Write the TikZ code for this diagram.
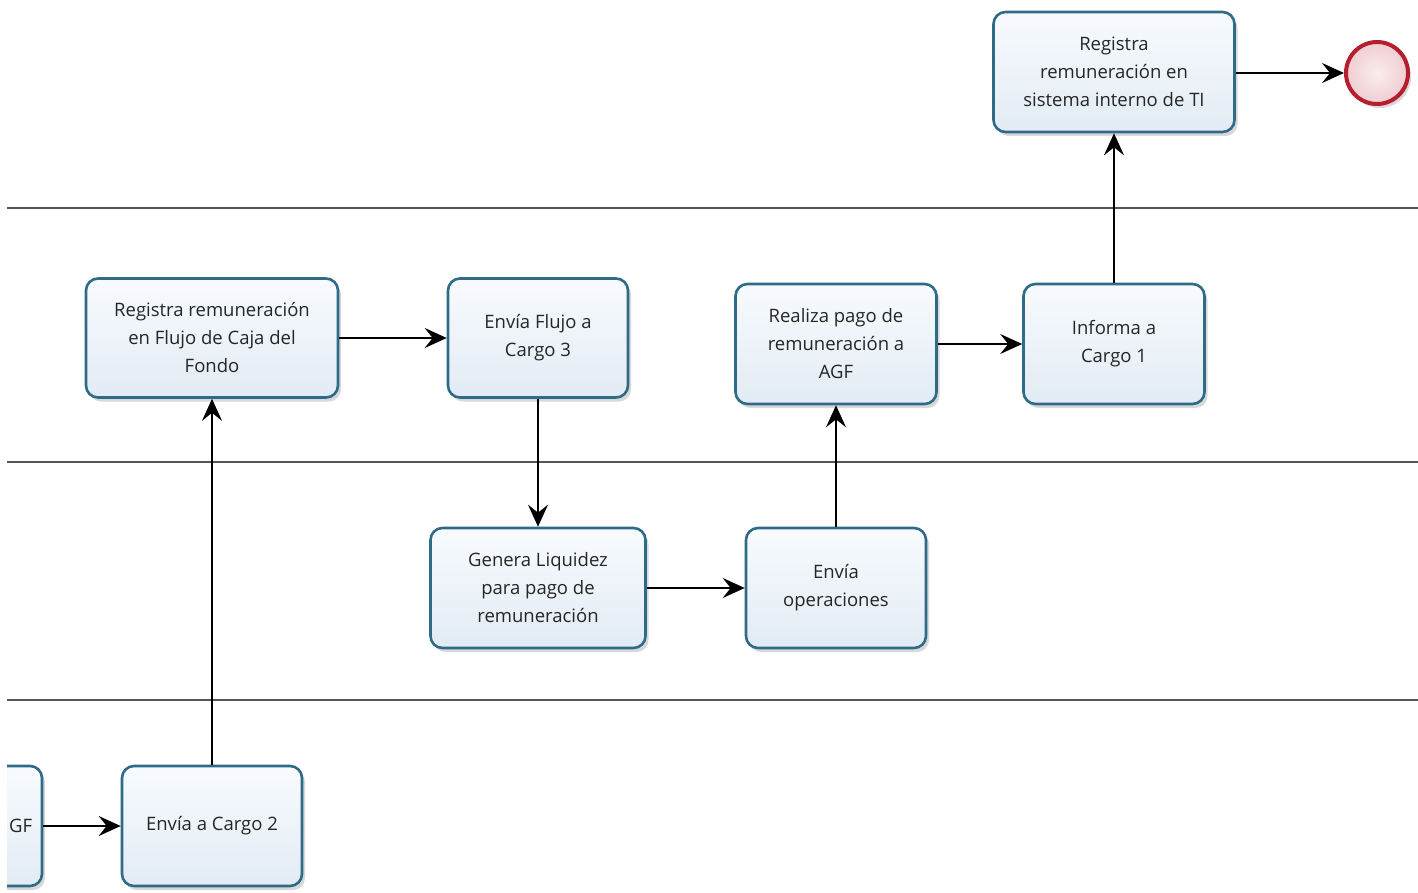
\documentclass[tikz,border=0pt]{standalone}
\usepackage{fontspec}
\setmainfont{Open Sans}
\usetikzlibrary{arrows.meta,shadows}
\definecolor{taskborder}{HTML}{2F6B87}
\definecolor{tasktop}{HTML}{F8FBFE}
\definecolor{taskbottom}{HTML}{E2EBF4}
\definecolor{endborder}{HTML}{B51E2E}
\definecolor{endinner}{HTML}{FBEDEE}
\definecolor{endouter}{HTML}{EFCDD1}
\definecolor{laneline}{HTML}{555555}
\tikzset{
  task/.style={draw=taskborder, line width=2.6pt, rounded corners=12pt,
    top color=tasktop, bottom color=taskbottom,
    drop shadow={shadow xshift=3pt, shadow yshift=-4pt, opacity=0.25, fill=black!60},
    align=center, font=\fontsize{18.5}{28}\selectfont, text=black!85,
    inner sep=4pt},
  endevent/.style={circle, draw=endborder, line width=4pt, minimum size=62pt,
    inner color=endinner, outer color=endouter,
    drop shadow={shadow xshift=3pt, shadow yshift=-4pt, opacity=0.25, fill=black!60}},
  flow/.style={draw=black, line width=1.8pt,
    -{Stealth[length=22pt, width=20pt, inset=8pt]}},
  lane/.style={draw=laneline, line width=1.2pt}
}
\begin{document}
\begin{tikzpicture}[x=1pt, y=-1pt]
  \useasboundingbox[fill=white] (0,0) rectangle (1418,893);
  \clip (7,0) rectangle (1418,893);

  % lane separators
  \coordinate (l1a) at (7,208);   \coordinate (l1b) at (1418,208);
  \coordinate (l2a) at (7,462);   \coordinate (l2b) at (1418,462);
  \coordinate (l3a) at (7,700);   \coordinate (l3b) at (1418,700);
  \draw[lane] (l1a) -- (l1b);
  \draw[lane] (l2a) -- (l2b);
  \draw[lane] (l3a) -- (l3b);

  % tasks
  \node[task, minimum width=241pt, minimum height=120pt] (sisTI) at (1114,72)
    {Registra\\remuneración en\\sistema interno de TI};
  \node[endevent] (fin) at (1377,73) {};

  \node[task, minimum width=252pt, minimum height=119pt] (flujo) at (212,338)
    {Registra remuneración\\en Flujo de Caja del\\Fondo};
  \node[task, minimum width=180pt, minimum height=119pt] (envFlujo) at (538,338)
    {Envía Flujo a\\Cargo 3};
  \node[task, minimum width=201pt, minimum height=120pt] (pago) at (836,344)
    {Realiza pago de\\remuneración a\\AGF};
  \node[task, minimum width=181pt, minimum height=120pt] (informa) at (1114,344)
    {Informa a\\Cargo 1};

  \node[task, minimum width=215pt, minimum height=120pt] (liquidez) at (538,588)
    {Genera Liquidez\\para pago de\\remuneración};
  \node[task, minimum width=180pt, minimum height=120pt] (operac) at (836,588)
    {Envía\\operaciones};

  \node[task, minimum width=180pt, minimum height=120pt] (prev) at (-48,826) {};
  \node[font=\fontsize{18.5}{28}\selectfont, text=black!85, anchor=west, inner sep=0pt]
    (prevtxt) at (9,826) {GF};
  \node[task, minimum width=180pt, minimum height=120pt] (cargo2) at (212,826)
    {Envía a Cargo 2};

  % sequence flows
  \draw[flow] (prev.east) -- (cargo2.west);
  \draw[flow] (cargo2.north) -- (flujo.south);
  \draw[flow] (flujo.east) -- (envFlujo.west);
  \draw[flow] (envFlujo.south) -- (liquidez.north);
  \draw[flow] (liquidez.east) -- (operac.west);
  \draw[flow] (operac.north) -- (pago.south);
  \draw[flow] (pago.east) -- (informa.west);
  \draw[flow] (informa.north) -- (sisTI.south);
  \draw[flow] (sisTI.east |- fin.west) -- (fin.west);
\end{tikzpicture}
\end{document}
